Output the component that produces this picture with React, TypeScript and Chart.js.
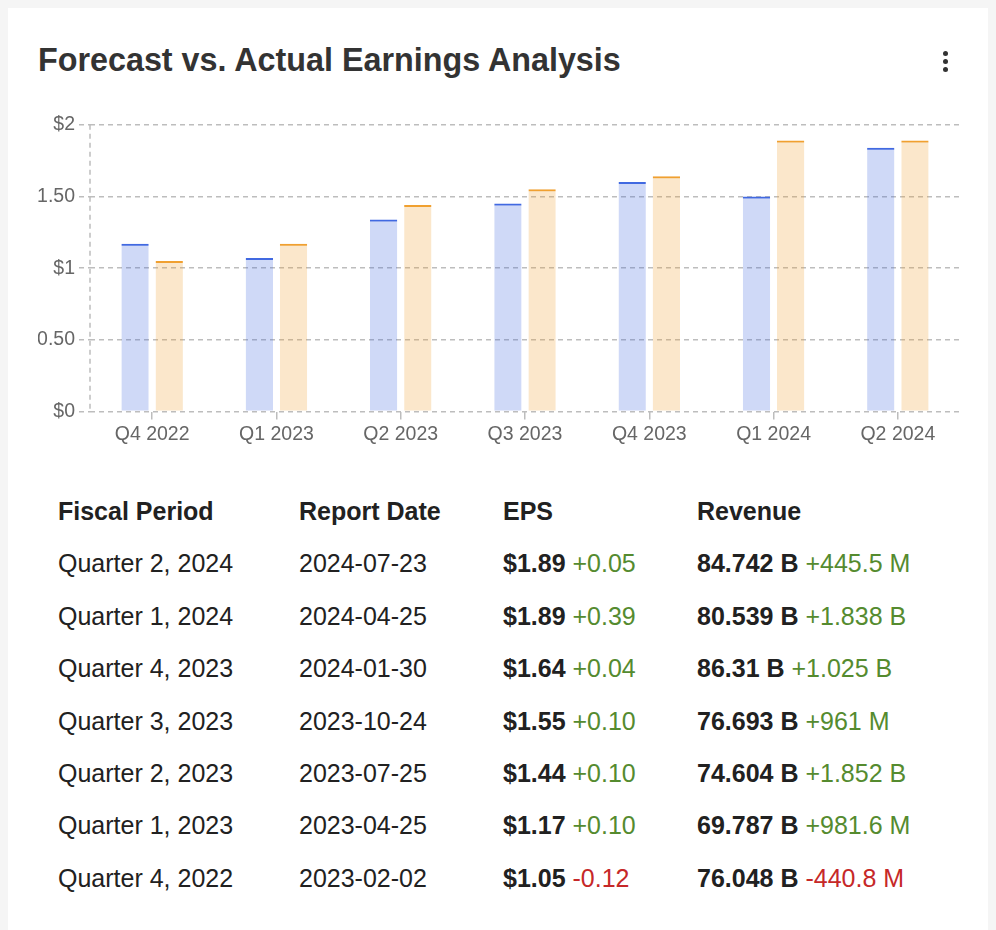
import React, { useEffect, useRef } from "react";
import { Chart, registerables } from "chart.js";

Chart.register(...registerables);

// ---- chart data ----
const quarters = ["Q4 2022", "Q1 2023", "Q2 2023", "Q3 2023", "Q4 2023", "Q1 2024", "Q2 2024"];
const forecastEps = [1.17, 1.07, 1.34, 1.45, 1.6, 1.5, 1.84];
const actualEps = [1.05, 1.17, 1.44, 1.55, 1.64, 1.89, 1.89];
const yTicks = [0, 0.5, 1, 1.5, 2];

// ---- table data ----
const tableHeaders = ["Fiscal Period", "Report Date", "EPS", "Revenue"];
const fiscalPeriods = [
  "Quarter 2, 2024",
  "Quarter 1, 2024",
  "Quarter 4, 2023",
  "Quarter 3, 2023",
  "Quarter 2, 2023",
  "Quarter 1, 2023",
  "Quarter 4, 2022",
];
const reportDates = ["2024-07-23", "2024-04-25", "2024-01-30", "2023-10-24", "2023-07-25", "2023-04-25", "2023-02-02"];
const epsValues = ["$1.89", "$1.89", "$1.64", "$1.55", "$1.44", "$1.17", "$1.05"];
const epsSurprises = ["+0.05", "+0.39", "+0.04", "+0.10", "+0.10", "+0.10", "-0.12"];
const revenueValues = ["84.742 B", "80.539 B", "86.31 B", "76.693 B", "74.604 B", "69.787 B", "76.048 B"];
const revenueSurprises = ["+445.5 M", "+1.838 B", "+1.025 B", "+961 M", "+1.852 B", "+981.6 M", "-440.8 M"];

const FONT = 'Arial, "Liberation Sans", sans-serif';
const GRID = "#bdbdbd";
const GREEN = "#558b2f";
const RED = "#c62828";

const leftBorderPlugin = {
  id: "leftDashedBorder",
  afterDatasetsDraw(chart: any) {
    const { ctx, chartArea } = chart;
    ctx.save();
    ctx.strokeStyle = GRID;
    ctx.lineWidth = 1.5;
    ctx.setLineDash([5, 4]);
    ctx.beginPath();
    ctx.moveTo(Math.round(chartArea.left), chartArea.top);
    ctx.lineTo(Math.round(chartArea.left), chartArea.bottom);
    ctx.stroke();
    ctx.restore();
  },
};

function EarningsChart() {
  const ref = useRef<HTMLCanvasElement | null>(null);
  useEffect(() => {
    if (!ref.current) return;
    const chart = new Chart(ref.current, {
      type: "bar",
      data: {
        labels: quarters,
        datasets: [
          {
            label: "Forecast",
            data: forecastEps,
            backgroundColor: "rgba(65,105,225,0.25)",
            borderColor: "#4169e1",
            borderWidth: { top: 2, left: 0, right: 0, bottom: 0 },
            categoryPercentage: 0.55,
            barPercentage: 0.8,
          },
          {
            label: "Actual",
            data: actualEps,
            backgroundColor: "rgba(240,160,48,0.25)",
            borderColor: "#f0a030",
            borderWidth: { top: 2, left: 0, right: 0, bottom: 0 },
            categoryPercentage: 0.55,
            barPercentage: 0.8,
          },
        ],
      },
      options: {
        animation: false,
        responsive: true,
        maintainAspectRatio: false,
        devicePixelRatio: 1,
        layout: { padding: 0 },
        plugins: { legend: { display: false }, tooltip: { enabled: false } },
        font: { family: FONT },
        scales: {
          x: {
            grid: {
              offset: false,
              drawOnChartArea: false,
              drawTicks: true,
              tickLength: 8,
              lineWidth: 1.5,
              color: GRID,
            },
            border: { display: false },
            ticks: { color: "#666", font: { family: FONT, size: 19.5 }, padding: 3 },
          },
          y: {
            min: 0,
            max: 2,
            afterBuildTicks: (axis: any) => {
              axis.ticks = yTicks.map((v) => ({ value: v }));
            },
            afterFit: (axis: any) => {
              axis.width = 52;
            },
            grid: {
              color: GRID,
              lineWidth: 1.5,
              tickLength: 11,
              tickBorderDash: [5, 4],
            },
            border: { display: false, dash: [5, 4] },
            ticks: {
              color: "#666",
              padding: 4,
              font: { family: FONT, size: 19.5 },
              callback: (v: any) => (Number.isInteger(v) ? `$${v}` : `$${Number(v).toFixed(2)}`),
            },
          },
        },
      } as any,
      plugins: [leftBorderPlugin],
    });
    return () => chart.destroy();
  }, []);
  return (
    <div style={{ position: "absolute", left: 30, top: 101, width: 922, height: 340 }}>
      <canvas ref={ref} />
    </div>
  );
}

export default function App() {
  useEffect(() => {
    document.body.style.background = "#f5f5f5";
  }, []);
  const rowH = 52.4;
  const cols = "241px 204px 194px 1fr";
  return (
    <div
      style={{
        position: "relative",
        width: 980,
        height: 960,
        background: "#fff",
        fontFamily: FONT,
        color: "#212121",
      }}
    >
      <div
        style={{
          position: "absolute",
          left: 30,
          top: 33,
          fontSize: 32.3,
          lineHeight: "38px",
          fontWeight: 700,
          color: "#333",
          whiteSpace: "nowrap",
        }}
      >
        Forecast vs. Actual Earnings Analysis
      </div>
      {[45, 53.3, 61.7].map((y, i) => (
        <div
          key={i}
          style={{
            position: "absolute",
            left: 937 - 2.5,
            top: y - 2.5,
            width: 5,
            height: 5,
            borderRadius: "50%",
            background: "#333",
          }}
        />
      ))}
      <EarningsChart />
      <div style={{ position: "absolute", left: 50, top: 477, width: 900, fontSize: 25 }}>
        <div style={{ display: "grid", gridTemplateColumns: cols, height: rowH, lineHeight: `${rowH}px`, fontWeight: 700 }}>
          {tableHeaders.map((h) => (
            <div key={h} style={{ whiteSpace: "nowrap" }}>
              {h}
            </div>
          ))}
        </div>
        {fiscalPeriods.map((p, i) => (
          <div key={p} style={{ display: "grid", gridTemplateColumns: cols, height: rowH, lineHeight: `${rowH}px` }}>
            <div style={{ whiteSpace: "nowrap" }}>{p}</div>
            <div style={{ whiteSpace: "nowrap" }}>{reportDates[i]}</div>
            <div style={{ whiteSpace: "nowrap" }}>
              <b>{epsValues[i]}</b>{" "}
              <span style={{ color: epsSurprises[i].startsWith("-") ? RED : GREEN }}>{epsSurprises[i]}</span>
            </div>
            <div style={{ whiteSpace: "nowrap" }}>
              <b>{revenueValues[i]}</b>{" "}
              <span style={{ color: revenueSurprises[i].startsWith("-") ? RED : GREEN }}>{revenueSurprises[i]}</span>
            </div>
          </div>
        ))}
      </div>
    </div>
  );
}
